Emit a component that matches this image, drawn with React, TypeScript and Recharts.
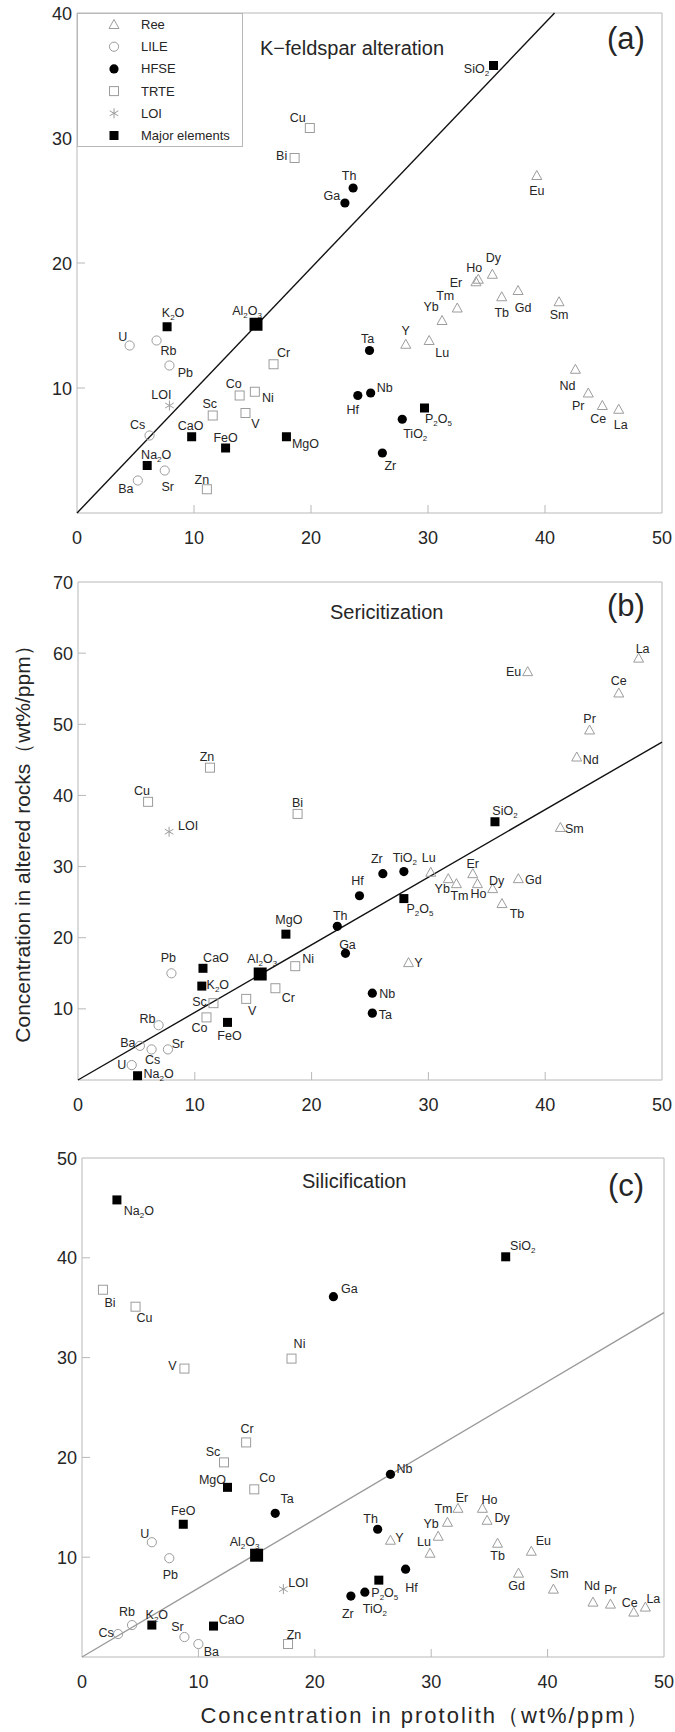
import React from 'react'
import { ScatterChart, Scatter, XAxis, YAxis, ReferenceLine, ReferenceArea, Legend } from 'recharts'

type Pt = { name: string; x: number; y: number }
type Off = Record<string, [number, number]>
type Kind = 'ree' | 'lile' | 'hfse' | 'trte' | 'loi' | 'major'

// ---------- (a) K-feldspar alteration ----------
const reeA: Pt[] = [
  { name: 'Eu', x: 39.3, y: 27.0 }, { name: 'Dy', x: 35.5, y: 19.1 }, { name: 'Ho', x: 34.3, y: 18.7 },
  { name: 'Er', x: 34.1, y: 18.5 }, { name: 'Tm', x: 32.5, y: 16.4 }, { name: 'Yb', x: 31.2, y: 15.4 },
  { name: 'Tb', x: 36.3, y: 17.3 }, { name: 'Gd', x: 37.7, y: 17.8 }, { name: 'Sm', x: 41.2, y: 16.9 },
  { name: 'Y', x: 28.1, y: 13.5 }, { name: 'Lu', x: 30.1, y: 13.8 }, { name: 'Nd', x: 42.6, y: 11.5 },
  { name: 'Pr', x: 43.7, y: 9.6 }, { name: 'Ce', x: 44.9, y: 8.6 }, { name: 'La', x: 46.3, y: 8.3 },
]
const lileA: Pt[] = [
  { name: 'U', x: 4.5, y: 13.4 }, { name: 'Rb', x: 6.8, y: 13.8 }, { name: 'Pb', x: 7.9, y: 11.8 },
  { name: 'Cs', x: 6.2, y: 6.2 }, { name: 'Sr', x: 7.5, y: 3.4 }, { name: 'Ba', x: 5.2, y: 2.6 },
]
const hfseA: Pt[] = [
  { name: 'Th', x: 23.6, y: 26.0 }, { name: 'Ga', x: 22.9, y: 24.8 }, { name: 'Ta', x: 25.0, y: 13.0 },
  { name: 'Nb', x: 25.1, y: 9.6 }, { name: 'Hf', x: 24.0, y: 9.4 }, { name: 'TiO2', x: 27.8, y: 7.5 },
  { name: 'Zr', x: 26.1, y: 4.8 },
]
const trteA: Pt[] = [
  { name: 'Cu', x: 19.9, y: 30.8 }, { name: 'Bi', x: 18.6, y: 28.4 }, { name: 'Cr', x: 16.8, y: 11.9 },
  { name: 'Co', x: 13.9, y: 9.4 }, { name: 'Ni', x: 15.2, y: 9.7 }, { name: 'Sc', x: 11.6, y: 7.8 },
  { name: 'V', x: 14.4, y: 8.0 }, { name: 'Zn', x: 11.1, y: 1.9 },
]
const loiA: Pt[] = [{ name: 'LOI', x: 7.9, y: 8.6 }]
const majorA: Pt[] = [
  { name: 'SiO2', x: 35.6, y: 35.8 }, { name: 'K2O', x: 7.7, y: 14.9 }, { name: 'Al2O3', x: 15.3, y: 15.1 },
  { name: 'CaO', x: 9.8, y: 6.1 }, { name: 'FeO', x: 12.7, y: 5.2 }, { name: 'MgO', x: 17.9, y: 6.1 },
  { name: 'Na2O', x: 6.0, y: 3.8 }, { name: 'P2O5', x: 29.7, y: 8.4 },
]

// ---------- (b) Sericitization ----------
const reeB: Pt[] = [
  { name: 'Eu', x: 38.5, y: 57.4 }, { name: 'La', x: 48.0, y: 59.3 }, { name: 'Ce', x: 46.3, y: 54.4 },
  { name: 'Pr', x: 43.8, y: 49.2 }, { name: 'Nd', x: 42.7, y: 45.4 }, { name: 'Sm', x: 41.3, y: 35.5 },
  { name: 'Lu', x: 30.2, y: 29.2 }, { name: 'Er', x: 33.8, y: 29.0 }, { name: 'Yb', x: 31.7, y: 28.3 },
  { name: 'Tm', x: 32.4, y: 27.6 }, { name: 'Ho', x: 34.2, y: 27.6 }, { name: 'Dy', x: 35.5, y: 26.9 },
  { name: 'Gd', x: 37.7, y: 28.3 }, { name: 'Tb', x: 36.3, y: 24.8 }, { name: 'Y', x: 28.3, y: 16.5 },
]
const lileB: Pt[] = [
  { name: 'Pb', x: 8.0, y: 15.0 }, { name: 'Rb', x: 6.9, y: 7.7 }, { name: 'Ba', x: 5.3, y: 4.8 },
  { name: 'Cs', x: 6.3, y: 4.3 }, { name: 'Sr', x: 7.7, y: 4.3 }, { name: 'U', x: 4.6, y: 2.1 },
]
const hfseB: Pt[] = [
  { name: 'Zr', x: 26.1, y: 29.0 }, { name: 'TiO2', x: 27.9, y: 29.3 }, { name: 'Hf', x: 24.1, y: 25.9 },
  { name: 'Th', x: 22.2, y: 21.6 }, { name: 'Ga', x: 22.9, y: 17.8 }, { name: 'Nb', x: 25.2, y: 12.2 },
  { name: 'Ta', x: 25.2, y: 9.4 },
]
const trteB: Pt[] = [
  { name: 'Zn', x: 11.3, y: 43.9 }, { name: 'Cu', x: 6.0, y: 39.1 }, { name: 'Bi', x: 18.8, y: 37.4 },
  { name: 'Ni', x: 18.6, y: 16.0 }, { name: 'Cr', x: 16.9, y: 12.9 }, { name: 'V', x: 14.4, y: 11.4 },
  { name: 'Sc', x: 11.6, y: 10.8 }, { name: 'Co', x: 11.0, y: 8.8 },
]
const loiB: Pt[] = [{ name: 'LOI', x: 7.8, y: 34.9 }]
const majorB: Pt[] = [
  { name: 'SiO2', x: 35.7, y: 36.3 }, { name: 'P2O5', x: 27.9, y: 25.5 }, { name: 'MgO', x: 17.8, y: 20.5 },
  { name: 'CaO', x: 10.7, y: 15.7 }, { name: 'K2O', x: 10.6, y: 13.2 }, { name: 'Al2O3', x: 15.6, y: 14.9 },
  { name: 'FeO', x: 12.8, y: 8.1 }, { name: 'Na2O', x: 5.1, y: 0.6 },
]

// ---------- (c) Silicification ----------
const reeC: Pt[] = [
  { name: 'Y', x: 26.5, y: 11.7 }, { name: 'Lu', x: 29.9, y: 10.4 }, { name: 'Yb', x: 30.6, y: 12.1 },
  { name: 'Tm', x: 31.4, y: 13.5 }, { name: 'Er', x: 32.3, y: 14.9 }, { name: 'Ho', x: 34.4, y: 14.9 },
  { name: 'Dy', x: 34.8, y: 13.7 }, { name: 'Tb', x: 35.7, y: 11.4 }, { name: 'Eu', x: 38.6, y: 10.6 },
  { name: 'Gd', x: 37.5, y: 8.4 }, { name: 'Sm', x: 40.5, y: 6.8 }, { name: 'Nd', x: 43.9, y: 5.5 },
  { name: 'Pr', x: 45.4, y: 5.3 }, { name: 'Ce', x: 47.4, y: 4.5 }, { name: 'La', x: 48.4, y: 5.0 },
]
const lileC: Pt[] = [
  { name: 'U', x: 6.0, y: 11.5 }, { name: 'Pb', x: 7.5, y: 9.9 }, { name: 'Rb', x: 4.3, y: 3.2 },
  { name: 'Cs', x: 3.1, y: 2.3 }, { name: 'Sr', x: 8.8, y: 2.0 }, { name: 'Ba', x: 10.0, y: 1.3 },
]
const hfseC: Pt[] = [
  { name: 'Ga', x: 21.6, y: 36.1 }, { name: 'Ta', x: 16.6, y: 14.4 }, { name: 'Nb', x: 26.5, y: 18.3 },
  { name: 'Th', x: 25.4, y: 12.8 }, { name: 'Hf', x: 27.8, y: 8.8 }, { name: 'TiO2', x: 24.3, y: 6.5 },
  { name: 'Zr', x: 23.1, y: 6.1 },
]
const trteC: Pt[] = [
  { name: 'Bi', x: 1.8, y: 36.8 }, { name: 'Cu', x: 4.6, y: 35.1 }, { name: 'V', x: 8.8, y: 28.9 },
  { name: 'Ni', x: 18.0, y: 29.9 }, { name: 'Cr', x: 14.1, y: 21.5 }, { name: 'Sc', x: 12.2, y: 19.5 },
  { name: 'Co', x: 14.8, y: 16.8 }, { name: 'Zn', x: 17.7, y: 1.3 },
]
const loiC: Pt[] = [{ name: 'LOI', x: 17.3, y: 6.8 }]
const majorC: Pt[] = [
  { name: 'Na2O', x: 3.0, y: 45.8 }, { name: 'SiO2', x: 36.4, y: 40.1 }, { name: 'MgO', x: 12.5, y: 17.0 },
  { name: 'FeO', x: 8.7, y: 13.3 }, { name: 'Al2O3', x: 15.0, y: 10.2 }, { name: 'K2O', x: 6.0, y: 3.2 },
  { name: 'CaO', x: 11.3, y: 3.1 }, { name: 'P2O5', x: 25.5, y: 7.7 },
]

// isocon slopes
const isoconSlope = [0.98, 0.95, 0.69]
const xTicks = [0, 10, 20, 30, 40, 50]
const yTicksA = [0, 10, 20, 30, 40]
const yTicksB = [0, 10, 20, 30, 40, 50, 60, 70]
const yTicksC = [0, 10, 20, 30, 40, 50]

const legendItems: { kind: Kind; label: string }[] = [
  { kind: 'ree', label: 'Ree' }, { kind: 'lile', label: 'LILE' }, { kind: 'hfse', label: 'HFSE' },
  { kind: 'trte', label: 'TRTE' }, { kind: 'loi', label: 'LOI' }, { kind: 'major', label: 'Major elements' },
]

// label placement (label centre relative to marker, px)
const offA: Off = {
  Cu: [-12, -11], Bi: [-13, -3], Ga: [-13, -8], Th: [-4, -13], SiO2: [-17, 3], Eu: [0, 15], Dy: [1, -17],
  Ho: [-4, -12], Er: [-20, 1], Tm: [-12, -13], Yb: [-11, -14], Tb: [0, 16], Gd: [5, 17], Sm: [0, 13],
  Y: [0, -14], Lu: [13, 12], Ta: [-2, -12], Nb: [14, -6], Hf: [-5, 14], P2O5: [14, 10], TiO2: [13, 14],
  Zr: [8, 12], Nd: [-8, 16], Pr: [-10, 12], Ce: [-4, 13], La: [2, 15], K2O: [6, -14], Al2O3: [-9, -14],
  U: [-7, -9], Rb: [12, 10], Pb: [16, 7], Cr: [10, -12], Co: [-6, -12], Ni: [13, 6], LOI: [-8, -11],
  Sc: [-3, -12], V: [10, 10], Cs: [-12, -11], CaO: [-1, -11], FeO: [0, -11], MgO: [19, 7], Na2O: [9, -11],
  Sr: [3, 16], Ba: [-12, 8], Zn: [-5, -10],
}
const offB: Off = {
  Zn: [-3, -11], Cu: [-6, -11], LOI: [19, -6], Bi: [0, -11], Eu: [-14, 0], La: [4, -10], Ce: [0, -12],
  Pr: [0, -11], Nd: [14, 2], SiO2: [10, -11], Sm: [14, 1], Zr: [-6, -15], TiO2: [1, -14], Lu: [-2, -15],
  Er: [0, -10], Hf: [-2, -15], P2O5: [16, 10], Th: [3, -11], Ga: [2, -9], Y: [10, 0], Nb: [15, 0],
  Ta: [13, 1], Yb: [-6, 10], Tm: [3, 12], Ho: [1, 10], Dy: [4, -8], Gd: [15, 1], Tb: [15, 10],
  MgO: [3, -15], Pb: [-3, -16], CaO: [13, -11], K2O: [16, -2], Al2O3: [2, -15], Ni: [13, -8], Cr: [13, 9],
  V: [6, 12], Sc: [-14, -2], Co: [-7, 10], FeO: [2, 13], Rb: [-11, -7], Ba: [-12, -3], Cs: [1, 10],
  Sr: [10, -6], U: [-10, -1], Na2O: [21, -2],
}
const offC: Off = {
  Na2O: [22, 11], Bi: [7, 13], Cu: [9, 11], V: [-12, -3], Ni: [8, -15], Ga: [16, -8], SiO2: [17, -11],
  Cr: [1, -14], Sc: [-11, -11], MgO: [-15, -8], Co: [13, -12], Ta: [12, -15], FeO: [0, -14], U: [-7, -9],
  Pb: [1, 16], Al2O3: [-12, -14], LOI: [15, -7], Rb: [-5, -14], K2O: [5, -11], Cs: [-12, -2],
  CaO: [18, -7], Sr: [-7, -11], Ba: [13, 7], Zn: [6, -10], Nb: [14, -6], Th: [-7, -11], Y: [9, -3],
  Lu: [-6, -12], Yb: [-7, -13], Tm: [-4, -14], Er: [4, -11], Ho: [7, -9], Dy: [15, -3], Tb: [0, 12],
  Eu: [12, -11], Gd: [-2, 12], Sm: [6, -16], Nd: [-1, -17], Pr: [0, -15], Ce: [-4, -10], La: [8, -9],
  Hf: [6, 18], P2O5: [6, 12], TiO2: [10, 16], Zr: [-3, 17],
}

const FONT = '"Liberation Sans", Arial, sans-serif'
const GREY = '#9c9c9c'
const FRAME = '#b8b8b8'
const INK = '#262626'

function Marker({ kind, cx, cy, big }: { kind: Kind; cx: number; cy: number; big?: boolean }) {
  if (kind === 'ree') {
    return <polygon points={`${cx},${cy - 5} ${cx - 5},${cy + 4} ${cx + 5},${cy + 4}`} fill="none" stroke={GREY} strokeWidth={1} />
  }
  if (kind === 'lile') return <circle cx={cx} cy={cy} r={4.6} fill="none" stroke={GREY} strokeWidth={1} />
  if (kind === 'hfse') return <circle cx={cx} cy={cy} r={4.6} fill="#000" />
  if (kind === 'trte') return <rect x={cx - 4.5} y={cy - 4.5} width={9} height={9} fill="none" stroke={GREY} strokeWidth={1} />
  if (kind === 'loi') {
    return (
      <g stroke={GREY} strokeWidth={1}>
        <line x1={cx} y1={cy - 5} x2={cx} y2={cy + 5} />
        <line x1={cx - 4.3} y1={cy - 2.5} x2={cx + 4.3} y2={cy + 2.5} />
        <line x1={cx - 4.3} y1={cy + 2.5} x2={cx + 4.3} y2={cy - 2.5} />
      </g>
    )
  }
  const s = big ? 13 : 9
  return <rect x={cx - s / 2} y={cy - s / 2} width={s} height={s} fill="#000" />
}

// chemical formula with subscript digits
function formula(name: string) {
  const parts = name.match(/\d+|\D+/g) ?? [name]
  let sub = false
  return parts.map((p, i) => {
    const isNum = /\d/.test(p)
    const dy = isNum ? (sub ? 0 : 3) : (sub ? -3 : 0)
    sub = isNum
    return (
      <tspan key={i} fontSize={isNum ? 8 : undefined} dy={dy}>
        {p}
      </tspan>
    )
  })
}

const makeShape = (kind: Kind, labels: Off) => (props: any) => {
  const { cx, cy, payload } = props
  const off = labels[payload.name] ?? [0, -12]
  return (
    <g>
      <Marker kind={kind} cx={cx} cy={cy} big={payload.name === 'Al2O3'} />
      <text x={cx + off[0]} y={cy + off[1] + 4.5} textAnchor="middle" fontSize={12.5} fill={INK} fontFamily={FONT}>
        {formula(payload.name)}
      </text>
    </g>
  )
}

const XTick = (props: any) => {
  const { x, y, payload } = props
  const v = payload.value
  return (
    <g>
      {v > 0 && v < 50 && <line x1={x} x2={x} y1={y} y2={y - 8} stroke={FRAME} />}
      <text x={x} y={y + 31} textAnchor="middle" fontSize={18} fill={INK} fontFamily={FONT}>{v}</text>
    </g>
  )
}

const makeYTick = (yMax: number) => (props: any) => {
  const { x, y, payload } = props
  const v = payload.value
  if (v === 0) return <g />
  return (
    <g>
      {v < yMax && <line x1={x} x2={x + 8} y1={y} y2={y} stroke={FRAME} />}
      <text x={x - 5} y={y + 6.5} textAnchor="end" fontSize={18} fill={INK} fontFamily={FONT}>{v}</text>
    </g>
  )
}

function LegendBox() {
  return (
    <div style={{ width: 166, height: 134, boxSizing: 'border-box', border: `1px solid ${FRAME}`, background: '#fff' }}>
      <svg width={164} height={132}>
        {legendItems.map((it, i) => (
          <g key={it.label}>
            <Marker kind={it.kind} cx={36} cy={10.5 + i * 22.2} />
            <text x={63} y={15 + i * 22.2} fontSize={13} fill={INK} fontFamily={FONT}>{it.label}</text>
          </g>
        ))}
      </svg>
    </div>
  )
}

type PanelProps = {
  top: number
  height: number
  margin: { top: number; right: number; bottom: number; left: number }
  yMax: number
  yTicks: number[]
  slope: number
  lineColor: string
  groups: [Pt[], Pt[], Pt[], Pt[], Pt[], Pt[]]
  labels: Off
  title: string
  titleX: number
  titleY: number
  tag: string
  tagY: number
  children?: React.ReactNode
}

const kinds: Kind[] = ['ree', 'lile', 'hfse', 'trte', 'loi', 'major']

function Panel(p: PanelProps) {
  const end = p.slope * 50 <= p.yMax ? { x: 50, y: p.slope * 50 } : { x: p.yMax / p.slope, y: p.yMax }
  return (
    <div style={{ position: 'absolute', left: 0, top: p.top }}>
      <ScatterChart width={675} height={p.height} margin={p.margin}>
        <XAxis type="number" dataKey="x" domain={[0, 50]} ticks={xTicks} interval={0} axisLine={false} tickLine={false}
          tickSize={0} tickMargin={0} height={30} tick={<XTick />} />
        <YAxis type="number" dataKey="y" domain={[0, p.yMax]} ticks={p.yTicks} interval={0} axisLine={false} tickLine={false}
          tickSize={0} tickMargin={0} width={60} tick={makeYTick(p.yMax)} />
        <ReferenceArea x1={0} x2={50} y1={0} y2={p.yMax} fill="none" stroke={FRAME} strokeWidth={1} fillOpacity={0} />
        <ReferenceLine segment={[{ x: 0, y: 0 }, end]} stroke={p.lineColor} strokeWidth={1.4} />
        {p.groups.map((g, i) => (
          <Scatter key={kinds[i]} name={legendItems[i].label} data={g} shape={makeShape(kinds[i], p.labels)} isAnimationActive={false} />
        ))}
        <text x={p.titleX} y={p.titleY} fontSize={20} fill={INK} fontFamily={FONT}>{p.title}</text>
        <text x={626} y={p.tagY} textAnchor="middle" fontSize={31} fill={INK} fontFamily={FONT}>{p.tag}</text>
        {p.children}
      </ScatterChart>
    </div>
  )
}

export default function App() {
  return (
    <div style={{ position: 'absolute', left: 0, top: 0, width: 675, height: 1732, background: '#fff' }}>
      <Panel top={0} height={560} margin={{ top: 13, right: 13, bottom: 17, left: 17 }} yMax={40} yTicks={yTicksA}
        slope={isoconSlope[0]} lineColor="#111" groups={[reeA, lileA, hfseA, trteA, loiA, majorA]} labels={offA}
        title="K−feldspar alteration" titleX={260} titleY={54.5} tag="(a)" tagY={49}>
        <Legend content={LegendBox} layout="vertical" align="center" verticalAlign="middle"
          wrapperStyle={{ left: 77, top: 13, width: 166, height: 134 }} />
      </Panel>
      <Panel top={560} height={560} margin={{ top: 22, right: 13, bottom: 10, left: 18 }} yMax={70} yTicks={yTicksB}
        slope={isoconSlope[1]} lineColor="#111" groups={[reeB, lileB, hfseB, trteB, loiB, majorB]} labels={offB}
        title="Sericitization" titleX={330} titleY={58.5} tag="(b)" tagY={56}>
        <text transform="translate(30,279) rotate(-90)" textAnchor="middle" fontSize={21} fill={INK} fontFamily={FONT}>
          Concentration in altered rocks（wt%/ppm）
        </text>
      </Panel>
      <Panel top={1120} height={612} margin={{ top: 38, right: 11, bottom: 45, left: 22 }} yMax={50} yTicks={yTicksC}
        slope={isoconSlope[2]} lineColor="#9a9a9a" groups={[reeC, lileC, hfseC, trteC, loiC, majorC]} labels={offC}
        title="Silicification" titleX={302} titleY={68} tag="(c)" tagY={76}>
        <text x={425} y={603} textAnchor="middle" fontSize={22} letterSpacing={2} fill={INK} fontFamily={FONT}>
          Concentration in protolith（wt%/ppm）
        </text>
      </Panel>
    </div>
  )
}
